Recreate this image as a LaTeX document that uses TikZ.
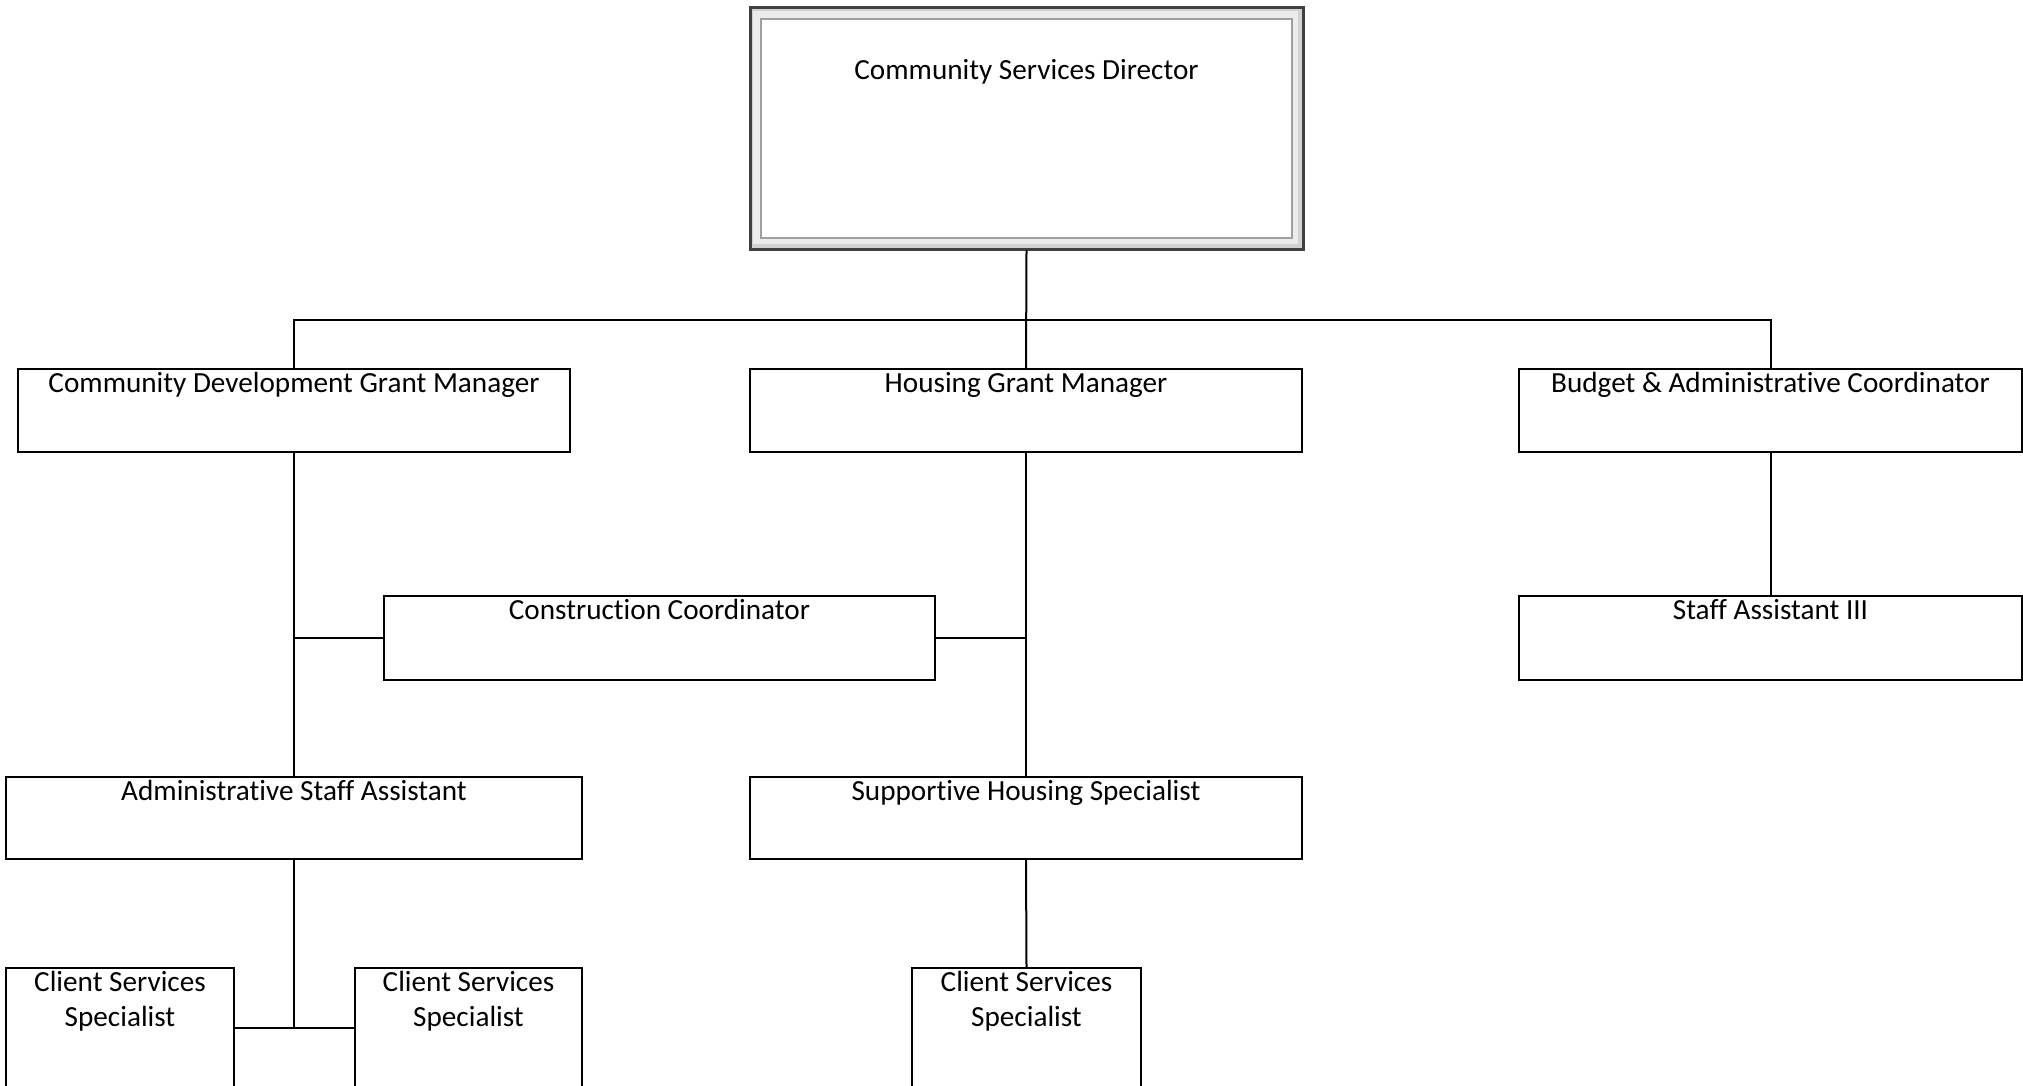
\documentclass[tikz,border=0pt]{standalone}
\usepackage{fontspec}
\setmainfont[Ligatures={NoCommon}]{Carlito}
\usetikzlibrary{calc}
\begin{document}
\begin{tikzpicture}[x=0.5pt,y=-0.5pt,
  box/.style={draw=black, line width=1pt, fill=white, rectangle, inner sep=0pt},
  lbl/.style={anchor=north, inner sep=0pt, yshift=-1.8pt, align=center, font=\fontsize{14.6}{17.5}\selectfont},
  conn/.style={draw=black, line width=1pt}]
\clip (0,0) rectangle (2023,1086);
\fill[white] (0,0) rectangle (2023,1086);
% director
\node[draw=black!75, line width=1.5pt, fill=gray!35, rectangle, inner sep=0pt,
  minimum width=276.5pt, minimum height=120.5pt,
  path picture={
    \fill[gray!15] ($(path picture bounding box.north west)+(3,3)$) rectangle ($(path picture bounding box.south east)+(-5,-5)$);
    \fill[white, draw=gray!75, line width=0.6pt] ($(path picture bounding box.north west)+(11,11)$) rectangle ($(path picture bounding box.south east)+(-11,-11)$);
  },
  label={[lbl, yshift=-24.5pt]north:Community Services Director}] (dir) at (1026.5,128.5) {};
% level 2
\node[box, minimum width=276pt, minimum height=41.5pt, label={[lbl]north:Community Development Grant Manager}] (cdgm) at (294,410.5) {};
\node[box, minimum width=276pt, minimum height=41.5pt, label={[lbl]north:Housing Grant Manager}] (hgm) at (1026,410.5) {};
\node[box, minimum width=251.5pt, minimum height=41.5pt, label={[lbl]north:Budget \& Administrative Coordinator}] (bac) at (1770.5,410.5) {};
% level 3
\node[box, minimum width=275.5pt, minimum height=42pt, label={[lbl]north:Construction Coordinator}] (cc) at (659.5,638) {};
\node[box, minimum width=251.5pt, minimum height=42pt, label={[lbl]north:Staff Assistant III}] (sa3) at (1770.5,638) {};
% level 4
\node[box, minimum width=288pt, minimum height=41pt, label={[lbl]north:Administrative Staff Assistant}] (asa) at (294,818) {};
\node[box, minimum width=276pt, minimum height=41pt, label={[lbl]north:Supportive Housing Specialist}] (shs) at (1026,818) {};
% level 5
\node[box, minimum width=114pt, minimum height=100pt, label={[lbl]north:Client Services\\Specialist}] (csl) at (120,1068) {};
\node[box, minimum width=113.5pt, minimum height=100pt, label={[lbl]north:Client Services\\Specialist}] (csm) at (468.5,1068) {};
\node[box, minimum width=114.5pt, minimum height=100pt, label={[lbl]north:Client Services\\Specialist}] (csr) at (1026.5,1068) {};
% connectors
\coordinate (bus) at (1026,320);
\coordinate (j) at (294,1028);
\draw[conn] (dir.south) -- (hgm.north);
\draw[conn] (cdgm.north) |- (bus) -| (bac.north);
\draw[conn] (cdgm.south) -- (asa.north);
\draw[conn] (hgm.south) -- (shs.north);
\draw[conn] (bac.south) -- (sa3.north);
\draw[conn] (cc.west) -- (cdgm.south |- cc.west);
\draw[conn] (cc.east) -- (hgm.south |- cc.east);
\draw[conn] (shs.south) -- (csr.north);
\draw[conn] (asa.south) -- (j);
\draw[conn] (csl.east |- j) -- (csm.west |- j);
\end{tikzpicture}
\end{document}
